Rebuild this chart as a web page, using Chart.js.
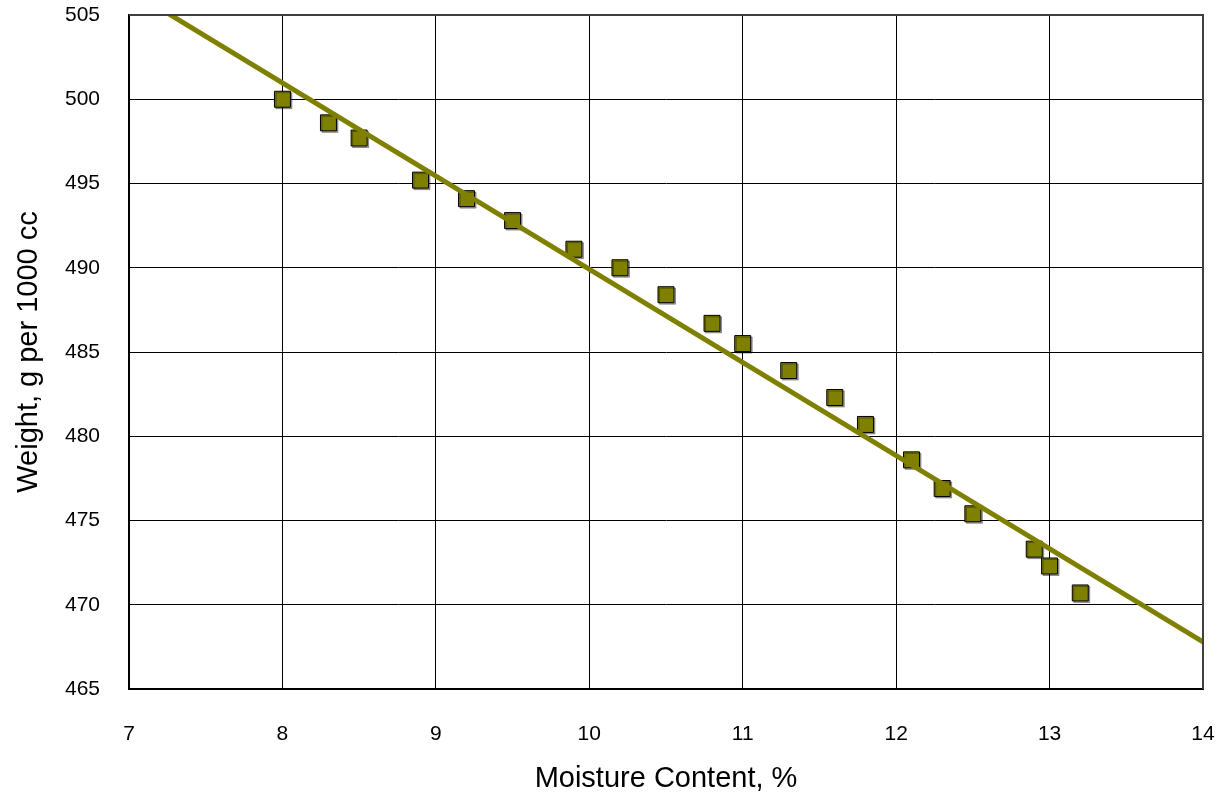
<!DOCTYPE html>
<html>
<head>
<meta charset="utf-8">
<script src="https://cdn.jsdelivr.net/npm/chart.js@4"></script>
<style>
  html, body { margin: 0; padding: 0; background: #fff; }
  #wrap { width: 1224px; height: 801px; }
</style>
</head>
<body>
<div id="wrap"><canvas id="myChart"></canvas></div>
<script>
// Measured points
const moisture = [8.0, 8.3, 8.5, 8.9, 9.2, 9.5, 9.9, 10.2, 10.5, 10.8, 11.0, 11.3, 11.6, 11.8, 12.1, 12.3, 12.5, 12.9, 13.0, 13.2];
const weight = [500.0, 498.6, 497.7, 495.2, 494.1, 492.8, 491.1, 490.0, 488.4, 486.7, 485.5, 483.9, 482.3, 480.7, 478.6, 476.9, 475.4, 473.3, 472.3, 470.7];

// Fitted trend line end points
const trendX = [7, 14];
const trendY = [506.5, 467.8];

const fontFamily = '"Liberation Sans", Arial, sans-serif';

// frame on top and right of the plot area
const framePlugin = {
    id: 'frame',
    afterDraw(chart) {
        const { ctx, chartArea: a } = chart;
        ctx.save();
        ctx.strokeStyle = '#404040';
        ctx.lineWidth = 2;
        ctx.beginPath();
        ctx.moveTo(a.left, a.top);
        ctx.lineTo(a.right, a.top);
        ctx.lineTo(a.right, a.bottom);
        ctx.stroke();
        ctx.restore();
    }
};

// small drop shadow under the square markers
const shadowPlugin = {
    id: 'markerShadow',
    beforeDatasetDraw(chart, args) {
        if (args.index !== 1) return;
        const c = chart.ctx;
        c.save();
        c.shadowColor = 'rgba(0,0,0,0.35)';
        c.shadowOffsetX = 1.5;
        c.shadowOffsetY = 1.5;
        c.shadowBlur = 0;
    },
    afterDatasetDraw(chart, args) {
        if (args.index !== 1) return;
        chart.ctx.restore();
    }
};

// no extra room for the end tick labels
function noPad(scale) {
    scale.paddingTop = 0;
    scale.paddingBottom = 0;
    scale.paddingLeft = 0;
    scale.paddingRight = 0;
}

const ctx = document.getElementById('myChart').getContext('2d');

const myChart = new Chart(ctx, {
    type: 'scatter',
    data: {
        datasets: [{
            type: 'line',
            label: 'Trend',
            data: trendX.map((x, i) => ({ x: x, y: trendY[i] })),
            borderColor: '#808000',
            borderWidth: 5,
            pointRadius: 0,
            fill: false,
            clip: 0,
            order: 0
        }, {
            label: 'Weight',
            data: moisture.map((x, i) => ({ x: x, y: weight[i] })),
            pointStyle: 'rect',
            pointRadius: 11.3,
            pointHoverRadius: 11.3,
            backgroundColor: '#808000',
            borderColor: '#000000',
            borderWidth: 1,
            order: 1
        }]
    },
    options: {
        responsive: true,
        maintainAspectRatio: false,
        animation: false,
        layout: {
            padding: { top: 15, right: 21, left: 0, bottom: 0 }
        },
        scales: {
            x: {
                type: 'linear',
                min: 7,
                max: 14,
                ticks: {
                    stepSize: 1,
                    color: '#000',
                    padding: 33,
                    font: { family: fontFamily, size: 21 }
                },
                grid: {
                    color: '#000',
                    lineWidth: 1,
                    drawTicks: false
                },
                border: { color: '#000', width: 2 },
                title: {
                    display: true,
                    text: 'Moisture Content, %',
                    color: '#000',
                    font: { family: fontFamily, size: 29 },
                    padding: { top: 0, bottom: 5 }
                },
                afterFit(scale) {
                    scale.height = 112;
                    noPad(scale);
                }
            },
            y: {
                min: 465,
                max: 505,
                ticks: {
                    stepSize: 5,
                    color: '#000',
                    padding: 29,
                    font: { family: fontFamily, size: 21 }
                },
                grid: {
                    color: '#000',
                    lineWidth: 1,
                    drawTicks: false
                },
                border: { color: '#000', width: 2 },
                title: {
                    display: true,
                    text: 'Weight, g per 1000 cc',
                    color: '#000',
                    font: { family: fontFamily, size: 29 },
                    padding: { top: 12, bottom: 0 }
                },
                afterFit(scale) {
                    scale.width = 129;
                    noPad(scale);
                }
            }
        },
        plugins: {
            legend: { display: false },
            tooltip: { enabled: false }
        }
    },
    plugins: [framePlugin, shadowPlugin]
});
</script>
</body>
</html>
